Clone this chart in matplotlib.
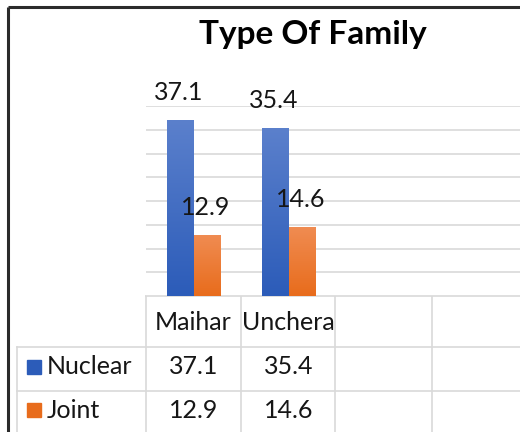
import matplotlib
matplotlib.use("Agg")
import matplotlib.pyplot as plt
import matplotlib.transforms as mtransforms
import numpy as np

# data
categories = ["Maihar", "Unchera", "", ""]
series_names = ["Nuclear", "Joint"]
nuclear = [37.1, 35.4]
joint = [12.9, 14.6]
y_ticks = [0, 5, 10, 15, 20, 25, 30, 35, 40]

plt.rcParams['font.family'] = ['Lato', 'DejaVu Sans']

W, H = 520, 432
fig = plt.figure(figsize=(W / 100, H / 100), dpi=100)

# full-figure overlay in pixel coords (for border + table grid)
tab = fig.add_axes([0, 0, 1, 1])
tab.set_xlim(0, W)
tab.set_ylim(H, 0)
tab.axis('off')

# bar area
left, right, top, base = 146, 526, 106, 296
ax = fig.add_axes([left / W, (H - base) / H, (right - left) / W, (base - top) / H])
ax.set_xlim(-0.5, len(categories) - 0.5)
ax.set_ylim(0, 40)
ax.set_yticks(y_ticks)
ax.yaxis.grid(True, color='#d9d9d9', linewidth=1.2)
ax.set_axisbelow(True)
for s in ax.spines.values():
    s.set_visible(False)
ax.tick_params(left=False, bottom=False, labelleft=False, labelbottom=False)

txt_c = '#161616'
bw = 0.284
colors = [('#5b80cc', '#2c5cb9'), ('#f08c52', '#e86c1c')]
values = [nuclear, joint]
for k, vals in enumerate(values):
    xs = np.arange(len(vals)) + (k - 0.5) * bw
    bars = ax.bar(xs, vals, width=bw, color=colors[k][1], linewidth=0, zorder=2)
    top_c = np.array(matplotlib.colors.to_rgb(colors[k][0]))
    bot_c = np.array(matplotlib.colors.to_rgb(colors[k][1]))
    grad = np.linspace(0, 1, 64)[:, None, None] * (top_c - bot_c) + bot_c
    for b, v in zip(bars, vals):
        x0 = b.get_x()
        im = ax.imshow(grad, extent=(x0, x0 + bw, 0, v), origin='lower',
                       aspect='auto', zorder=3)
        im.set_clip_path(b)
        ax.annotate(f"{v}", (x0 + bw / 2 - 0.01, v), xytext=(0, 27),
                    textcoords='offset pixels', ha='center', va='center',
                    fontsize=18, color=txt_c, zorder=4)
ax.set_xlim(-0.5, len(categories) - 0.5)
ax.set_ylim(0, 40)

# border
tab.plot([8, W + 5], [7, 7], color='#2b2b2b', linewidth=2.2, solid_capstyle='butt')
tab.plot([8, 8], [7, H + 5], color='#2b2b2b', linewidth=2.2, solid_capstyle='butt')

# title
tab.text(313, 44, "Type Of Family", ha='center', va='baseline',
         fontsize=24, fontweight='bold', color='#000000')

# data table
grid_c = '#d9d9d9'
row_lines = [296, 347, 391]
col_lines = [146, 241, 335, 432]
tab.plot([146, W + 5], [row_lines[0], row_lines[0]], color=grid_c, lw=1.2)
for y in row_lines[1:]:
    tab.plot([17, W + 5], [y, y], color=grid_c, lw=1.2)
tab.plot([17, 17], [347, H + 5], color=grid_c, lw=1.2)
for x in col_lines:
    tab.plot([x, x], [296, H + 5], color=grid_c, lw=1.2)

blend = mtransforms.blended_transform_factory(ax.transData, tab.transData)
for i, c in enumerate(categories):
    tab.text(i, 322, c, transform=blend, ha='center', va='center',
             fontsize=18, color=txt_c)

row_y = [367, 410]
for k, vals in enumerate(values):
    tab.add_patch(plt.Rectangle((27, row_y[k] - 7), 14, 14, color=colors[k][1]))
    tab.text(47, row_y[k], series_names[k], ha='left', va='center',
             fontsize=18, color=txt_c)
    for i, v in enumerate(vals):
        tab.text(i, row_y[k], f"{v}", transform=blend, ha='center', va='center',
                 fontsize=18, color=txt_c)

fig.savefig("out.png", dpi=100)
